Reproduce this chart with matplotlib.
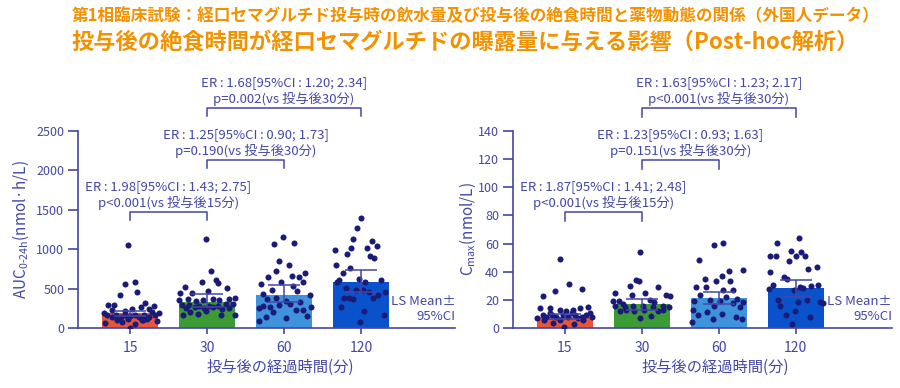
import matplotlib
matplotlib.use('Agg')
import matplotlib.pyplot as plt
import numpy as np

plt.rcParams['font.family'] = ['Noto Sans CJK JP', 'DejaVu Sans']
plt.rcParams['mathtext.fontset'] = 'custom'
plt.rcParams['mathtext.rm'] = 'Noto Sans CJK JP'

# ---- data ----
groups = ['15', '30', '60', '120']
bar_colors = ['#E8563A', '#3D9B35', '#3F93DD', '#0A52CC']

auc_mean = [186, 330, 419, 584]
auc_lo = [150, 262, 330, 457]
auc_hi = [222, 431, 546, 736]

cmax_mean = [8.0, 16.8, 21.5, 28.2]
cmax_lo = [6.5, 12.8, 17.0, 22.2]
cmax_hi = [10.0, 20.6, 25.8, 34.0]

# individual subjects: value and horizontal jitter (category units)
auc_pts = [
    [1053, 554, 588, 419, 453, 292, 292, 321, 279, 262, 241, 228, 220, 237, 186, 186, 199, 160, 140,
     165, 145, 160, 150, 165, 140, 160, 145, 165, 102, 110, 102, 93, 59, 51, 5, 120, 75, 97],
    [1134, 728, 584, 613, 520, 571, 508, 444, 465, 444, 381, 360, 372, 347, 360, 368, 360, 372, 296,
     296, 283, 283, 275, 309, 309, 254, 266, 254, 266, 241, 254, 169, 182, 169, 169, 211, 199],
    [1159, 1066, 1074, 854, 795, 727, 651, 660, 651, 694, 558, 584, 580, 533, 482, 473, 431, 419, 372,
     385, 347, 334, 258, 283, 270, 292, 305, 228, 228, 262, 207, 136, 123, 152, 89],
    [1269, 1392, 1126, 1011, 1100, 1044, 1015, 990, 939, 914, 884, 799, 761, 694, 609, 618, 580, 609,
     588, 503, 482, 482, 461, 419, 461, 377, 377, 364, 377, 270, 220, 165, 72],
]
auc_jit = [
    [-0.02, -0.06, 0.06, -0.13, 0.09, -0.28, -0.21, 0.20, 0.31, 0.14, 0.02, -0.24, -0.07, 0.25, -0.34,
     0.37, 0.28, -0.30, -0.24, -0.18, -0.12, -0.06, 0.0, 0.06, 0.12, 0.18, 0.24, 0.32, -0.17, -0.03,
     0.15, 0.35, -0.32, 0.06, 0.0, 0.22, -0.10, 0.17],
    [-0.02, 0.05, -0.07, 0.11, -0.29, 0.14, 0.26, -0.35, 0.01, -0.20, 0.36, -0.36, -0.25, -0.14, -0.05,
     0.08, 0.16, 0.29, -0.32, -0.23, -0.10, 0.03, 0.14, 0.25, 0.34, -0.27, -0.16, -0.04, 0.08, 0.19,
     0.29, -0.31, -0.12, 0.18, 0.36, -0.01, -0.22],
    [-0.01, -0.13, 0.13, -0.06, 0.06, -0.10, -0.21, 0.10, 0.19, 0.27, -0.30, -0.04, 0.24, 0.12, -0.16,
     0.17, -0.27, 0.33, -0.22, -0.11, 0.02, 0.21, -0.33, -0.28, -0.18, -0.07, 0.08, 0.15, 0.24, 0.35,
     -0.15, -0.24, 0.02, 0.30, -0.33],
    [-0.06, 0.0, -0.10, -0.13, 0.14, 0.20, 0.08, -0.34, -0.19, 0.11, 0.17, -0.32, -0.15, -0.24, -0.29,
     -0.03, 0.05, 0.26, -0.31, -0.20, -0.07, 0.03, 0.10, 0.22, 0.31, -0.22, -0.16, -0.10, 0.15, -0.26,
     0.04, 0.30, -0.02],
]

cmax_pts = [
    [49, 31, 26, 28, 22.5, 14, 14, 13, 12, 13, 14, 15, 7, 9.5, 8, 9.5, 8, 9.5, 8, 9.5, 8, 9.5, 8, 6,
     3.5, 5.5, 3, 5.5, 0.5, 10.6, 10.6, 10.6, 7],
    [53.7, 34.3, 33.6, 29, 29.6, 24.6, 24.6, 23.2, 23.2, 22.5, 19, 19.4, 20, 18.7, 15.8, 17.3, 15.8,
     15.4, 15, 15.8, 15, 12.3, 13, 11.8, 12.5, 12.3, 13, 7, 8.3, 14.9],
    [59, 60.4, 48.5, 41, 40.2, 37.2, 34.8, 33.1, 33.1, 29.1, 29.1, 26.7, 27.2, 23.7, 22.2, 20.6, 18.9,
     20.1, 18.9, 17.8, 18.2, 15.9, 14.9, 12.5, 11.4, 9.9, 9.5, 6.6, 7.8, 6.4, 4.3],
    [63.9, 60.4, 50.9, 50.9, 54.4, 53.7, 50.9, 51.4, 47.3, 42.1, 43.1, 39.5, 36.2, 35, 30.3, 29.1, 30,
     30.8, 27.7, 27.2, 28.4, 20.1, 20.1, 18.2, 17.8, 15.4, 18.5, 12.3, 9.5, 7.8, 3.1],
]
cmax_jit = [
    [-0.07, 0.05, -0.13, 0.22, -0.28, -0.32, -0.19, -0.06, 0.02, 0.11, 0.19, 0.30, -0.36, -0.29, -0.24,
     -0.17, -0.11, -0.02, 0.04, 0.13, 0.22, 0.28, 0.35, -0.27, -0.15, -0.06, 0.12, 0.24, -0.01, 0.09,
     -0.19, 0.32, 0.17],
    [-0.02, -0.07, -0.04, 0.21, -0.16, -0.35, 0.04, -0.13, 0.32, 0.36, -0.38, -0.30, 0.10, 0.16, -0.35,
     -0.25, -0.12, 0.01, 0.14, 0.27, 0.35, -0.28, -0.20, -0.10, 0.03, 0.21, 0.27, -0.03, 0.12, -0.22],
    [-0.06, 0.06, -0.26, 0.32, 0.13, 0.04, -0.18, -0.03, 0.15, -0.30, -0.17, 0.06, 0.19, -0.24, 0.10,
     0.24, -0.32, -0.12, 0.01, 0.18, 0.31, -0.06, 0.28, -0.34, -0.15, 0.04, -0.27, -0.07, 0.23, 0.30,
     -0.35],
    [0.04, -0.24, -0.34, -0.26, -0.06, 0.07, 0.12, 0.0, -0.09, 0.16, 0.27, -0.33, -0.15, -0.11, -0.29,
     0.05, 0.20, 0.29, -0.35, -0.02, 0.10, -0.23, 0.15, 0.31, 0.35, -0.20, 0.03, -0.01, -0.13, 0.18,
     -0.05],
]

# comparisons: (from group, to group, label)
auc_cmp = [(0, 1, 'ER\u2009:\u20091.98[95%CI\u2009:\u20091.43; 2.75]\np<0.001(vs 投与後15分)'),
           (1, 2, 'ER\u2009:\u20091.25[95%CI\u2009:\u20090.90; 1.73]\np=0.190(vs 投与後30分)'),
           (1, 3, 'ER\u2009:\u20091.68[95%CI\u2009:\u20091.20; 2.34]\np=0.002(vs 投与後30分)')]
cmax_cmp = [(0, 1, 'ER\u2009:\u20091.87[95%CI\u2009:\u20091.41; 2.48]\np<0.001(vs 投与後15分)'),
            (1, 2, 'ER\u2009:\u20091.23[95%CI\u2009:\u20090.93; 1.63]\np=0.151(vs 投与後30分)'),
            (1, 3, 'ER\u2009:\u20091.63[95%CI\u2009:\u20091.23; 2.17]\np<0.001(vs 投与後30分)')]

title1 = '第1相臨床試験：経口セマグルチド投与時の飲水量及び投与後の絶食時間と薬物動態の関係（外国人データ）'
title2 = '投与後の絶食時間が経口セマグルチドの曝露量に与える影響（Post-hoc解析）'
xlab = '投与後の経過時間(分)'

# ---- styling ----
ink = '#4347A6'
dot_col = '#1A1A78'
orange = '#F39200'


def panel(ax, mean, lo, hi, pts, jit, cmp, ymax, ystep, bracket_y, leg, ylabel, xright, ypad):
    x = np.arange(len(groups))
    ax.bar(x, mean, width=0.73, color=bar_colors, zorder=1)
    for i in range(len(groups)):
        ax.scatter(i + np.array(jit[i]), pts[i], s=19, color=dot_col, linewidths=0, zorder=3)
    ax.errorbar(x, mean, yerr=[np.array(mean) - np.array(lo), np.array(hi) - np.array(mean)],
                fmt='none', ecolor=ink, elinewidth=1.1, capsize=11.5, capthick=1.1, zorder=4)
    for (a, b, txt), yb in zip(cmp, bracket_y):
        ax.plot([a, a, b, b], [yb - leg, yb, yb, yb - leg], color=ink, lw=1.1, clip_on=False)
        ax.annotate(txt, xy=((a + b) / 2, yb), xytext=(0, 1.5), textcoords='offset points',
                    ha='center', va='bottom', fontsize=9.5, color=ink, linespacing=1.25,
                    annotation_clip=False)
    ax.set_xlim(-0.675, xright)
    ax.set_ylim(0, ymax)
    ax.set_yticks(np.arange(0, ymax + 1, ystep))
    ax.set_xticks(x)
    ax.set_xticklabels(groups)
    for s in ['top', 'right']:
        ax.spines[s].set_visible(False)
    for s in ['left', 'bottom']:
        ax.spines[s].set_color(ink)
        ax.spines[s].set_linewidth(1.2)
    ax.tick_params(axis='y', colors=ink, labelsize=9, length=7, width=1.2, pad=3)
    ax.tick_params(axis='x', colors=ink, labelsize=10, length=4, width=1.2, pad=5)
    ax.set_ylabel(ylabel, color=ink, fontsize=11, labelpad=ypad)
    ax.set_xlabel(xlab, color=ink, fontsize=11)
    ax.xaxis.set_label_coords(0.535, -0.155)
    ax.text(1.0, 0.095, 'LS Mean±\n95%CI', transform=ax.transAxes, ha='right', va='center',
            fontsize=9.5, color=ink, linespacing=1.2)


fig = plt.figure(figsize=(9, 3.88), dpi=100)
fig.patch.set_facecolor('white')

ax1 = fig.add_axes([0.0867, 0.1546, 0.419, 0.5077])
panel(ax1, auc_mean, auc_lo, auc_hi, auc_pts, auc_jit, auc_cmp, 2500, 500,
      [1472, 2132, 2792], 100, r'AUC$_{\mathrm{0\text{-}24h}}$(nmol·h/L)', 4.22, 4)

ax2 = fig.add_axes([0.570, 0.1546, 0.421, 0.5077])
panel(ax2, cmax_mean, cmax_lo, cmax_hi, cmax_pts, cmax_jit, cmax_cmp, 140, 20,
      [82.4, 119.3, 156.3], 6, r'C$_{\mathrm{max}}$(nmol/L)', 4.25, 0)

fig.text(0.08, 1 - 16 / 388, title1, fontsize=12, fontweight='bold', color=orange, va='center')
fig.text(0.08, 1 - 42 / 388, title2, fontsize=16, fontweight='bold', color=orange, va='center')

fig.savefig('out.png', dpi=100)
